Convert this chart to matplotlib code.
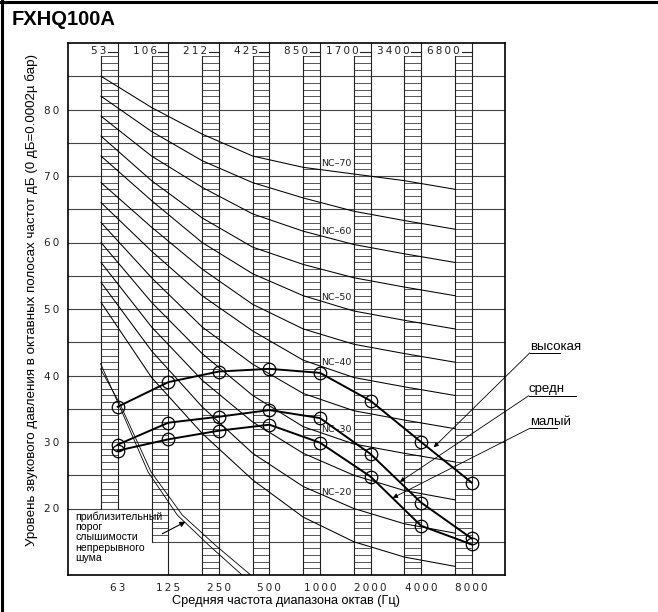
import numpy as np
import matplotlib.pyplot as plt

# octave band centres (bottom) and old band marks (top)
freqs = ["63", "125", "250", "500", "1000", "2000", "4000", "8000"]
band_marks = ["53", "106", "212", "425", "850", "1700", "3400", "6800"]

# measured sound pressure levels, dB
high = [35.3, 39.0, 40.6, 41.0, 40.4, 36.2, 30.0, 23.9]
mid = [29.6, 32.9, 33.8, 34.8, 33.6, 28.2, 20.9, 15.5]
low = [28.7, 30.4, 31.7, 32.6, 29.9, 24.8, 17.4, 14.6]
series_names = ["высокая", "средн", "малый"]

# NC curves, read at the left edge of each band column
nc_levels = [70, 65, 60, 55, 50, 45, 40, 35, 30, 25, 20, 15]
nc_curves = [
    [85, 80.3, 76.3, 73, 71.3, 70.3, 69.3, 68],
    [82, 76.7, 72.3, 69, 66.7, 64.7, 63.3, 62],
    [79, 73, 68.3, 64.3, 61.7, 59.7, 58.3, 57],
    [76, 69.3, 63.7, 59.3, 56.7, 54.7, 53.3, 52],
    [73, 66.3, 60, 55.3, 52, 49.7, 48.3, 47],
    [69, 62.3, 56, 50.7, 47, 44.7, 43.3, 42],
    [66, 58.7, 52, 46.7, 42.3, 39.7, 38.3, 37],
    [63, 54.7, 47.3, 41.7, 37.3, 34.7, 33.3, 32],
    [60, 51, 43.3, 37, 32.3, 29.7, 28.3, 27],
    [57, 47.3, 39.3, 33, 28.3, 25, 22.7, 21.3],
    [54, 43.7, 35.3, 28.3, 23.3, 20, 17.7, 16.3],
    [51, 39.7, 31.3, 24.3, 18.7, 15, 12.7, 11.3],
]

# approximate hearing threshold (two thin lines), x in octave steps from 63 Hz
thr_x1 = [-0.34, 0.0, 0.6, 1.18, 1.8, 2.46]
thr_y1 = [41.8, 36.0, 25.5, 19.0, 14.5, 10.0]
thr_x2 = [-0.34, 0.04, 0.66, 1.28, 1.93, 2.63]
thr_y2 = [41.0, 35.8, 25.5, 19.0, 14.5, 10.0]

W, H = 658, 612
fig = plt.figure(figsize=(W / 100, H / 100), dpi=100)
ax = fig.add_axes([68 / W, 37 / H, 437 / W, 532 / H])
XL = (-0.983, 7.66)
ax.set_xlim(*XL)
ax.set_ylim(10, 90)

cw = 0.33  # width of band column
x = np.arange(len(freqs))
sp = "\u2009"

# horizontal grid
for g in range(15, 90, 5):
    x0 = 1 if g == 15 else XL[0]
    ax.plot([x0, XL[1]], [g, g], color="#444", lw=0.8, zorder=1)

# hatched band columns
for i in x:
    bot = 20 if i == 0 else (15 if i == 1 else 10)
    rungs = np.arange(bot, 89)
    ax.hlines(rungs, i - cw, i, color="#555", lw=0.7, zorder=1)
    ax.plot([i - cw, i - cw], [bot, 88], color="#222", lw=0.8, zorder=1)
    ax.plot([i, i], [10 if i == 1 else bot, 90], color="#222", lw=0.8, zorder=1)
    ax.text(i - 0.23, 88.8, sp.join(band_marks[i]), ha="right", va="center",
            fontsize=7.5, color="#222", family="DejaVu Sans")
    ax.plot([i - 0.2, i], [88.7, 88.7], color="#222", lw=0.8)

# NC curves
for lev, vals in zip(nc_levels, nc_curves):
    ax.plot(x - cw, vals, color="k", lw=0.75, zorder=2)
    if lev % 10 == 0:
        ax.text(4.33, np.interp(4.33, x - cw, vals) + 1.3, f"NC\u2013{lev}",
                ha="center", va="center", fontsize=6.8, color="#222",
                family="DejaVu Sans")

# hearing threshold
ax.plot(thr_x1, thr_y1, color="k", lw=0.6, zorder=2)
ax.plot(thr_x2, thr_y2, color="k", lw=0.6, zorder=2)
ax.text(-0.84, 19.6, "приблизительный\nпорог\nслышимости\nнепрерывного\nшума",
        ha="left", va="top", fontsize=7.6, linespacing=1.05,
        family="Liberation Sans")
ax.annotate("", xy=(1.39, 18.2), xytext=(0.83, 16.0),
            arrowprops=dict(arrowstyle="-|>", color="k", lw=0.8, mutation_scale=8))

# unit data
for s in (high, mid, low):
    ax.plot(x, s, color="k", lw=1.4, marker="o", ms=9, mfc="none", mew=0.9, zorder=3)

# labels with leader arrows
lab_pos = [(8.15, 43.8, 43.4, 0.59, 6.25, 29.2),
           (8.13, 37.56, 36.96, 0.93, 5.58, 24.0),
           (8.15, 32.6, 32.05, 0.53, 5.44, 21.6)]
for name, (tx, ty, uy, ul, ax_, ay) in zip(series_names, lab_pos):
    ax.text(tx, ty, name, ha="left", va="baseline", fontsize=9.5,
            family="Liberation Sans", clip_on=False)
    ax.plot([tx, tx + ul], [uy, uy], color="k", lw=0.7, clip_on=False)
    ax.annotate("", xy=(ax_, ay), xytext=(tx, uy), annotation_clip=False,
                arrowprops=dict(arrowstyle="-|>", color="k", lw=0.6,
                                mutation_scale=7, shrinkA=0, shrinkB=0))

ax.set_xticks(x)
ax.set_xticklabels([sp.join(f) for f in freqs], fontsize=7.5, color="#222",
                   family="DejaVu Sans")
ax.set_yticks(range(20, 90, 10))
ax.set_yticklabels([sp.join(str(v)) for v in range(20, 90, 10)], fontsize=7.5,
                   color="#222", family="DejaVu Sans")
ax.tick_params(length=0, pad=6)
for s in ax.spines.values():
    s.set_linewidth(1.2)

fig.text(286 / W, 1 - 601 / H, "Средняя частота диапазона октав (Гц)",
         ha="center", va="center", fontsize=9.2, family="Liberation Sans")
fig.text(32 / W, 1 - 300 / H,
         "Уровень звукового давления в октавных полосах частот дБ (0 дБ=0.0002µ бар)",
         ha="center", va="center", rotation=90, fontsize=9.6, family="Liberation Sans")
fig.text(12 / W, 1 - 25 / H, "FXHQ100A", ha="left", va="baseline",
         fontsize=14.5, fontweight="bold", family="Liberation Sans")

# page frame (top and left edges)
fig.add_artist(plt.Line2D([0, 1], [1 - 1.5 / H, 1 - 1.5 / H], color="k", lw=2.2))
fig.add_artist(plt.Line2D([1.5 / W, 1.5 / W], [0, 1], color="k", lw=2.2))

fig.savefig("out.png", dpi=100)
